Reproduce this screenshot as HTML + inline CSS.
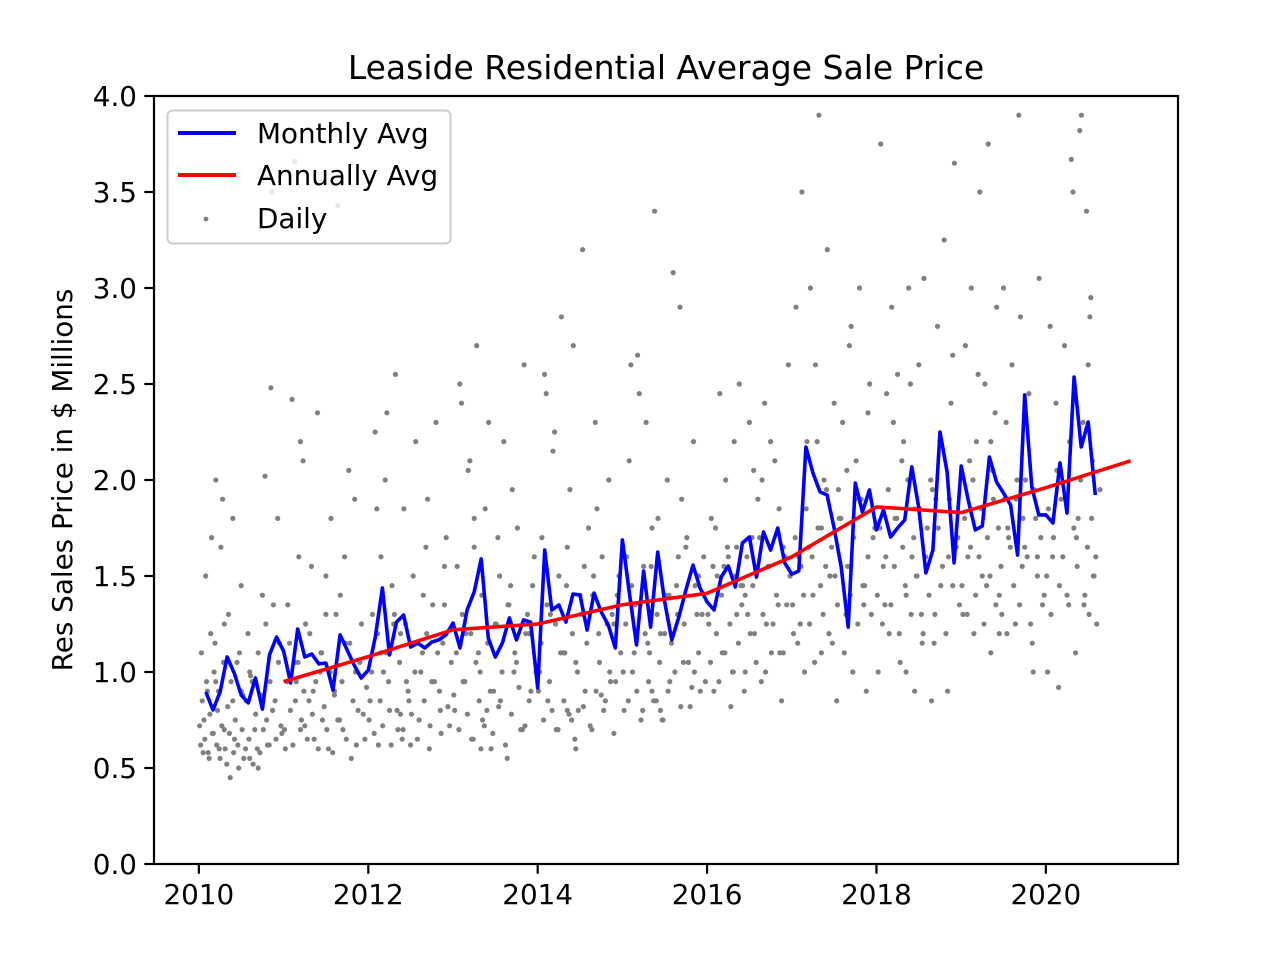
<!DOCTYPE html>
<html><head><meta charset="utf-8"><title>Leaside Residential Average Sale Price</title>
<style>
html,body{margin:0;padding:0;background:#fff;}
svg{display:block;font-family:"DejaVu Sans","Liberation Sans",sans-serif;}
</style></head>
<body>
<svg id="chart" width="1280" height="960" viewBox="0 0 1280 960" xmlns="http://www.w3.org/2000/svg">
<rect x="0" y="0" width="1280" height="960" fill="#fff"/>
<text x="666" y="79" font-size="33" text-anchor="middle" fill="#000">Leaside Residential Average Sale Price</text>
<text x="0" y="0" font-size="27.8" text-anchor="middle" fill="#000" transform="translate(72,480) rotate(-90)">Res Sales Price in $ Millions</text>
<g id="daily"></g>
<g id="lines"></g>
<g id="axes"></g>
<g id="legend">
  <rect x="167.5" y="110.5" width="283" height="133" rx="5" fill="#fff" fill-opacity="0.8" stroke="#cccccc" stroke-width="2"/>
  <line x1="178" y1="133" x2="236" y2="133" stroke="#0000ff" stroke-width="4"/>
  <text x="257" y="143" font-size="27.8">Monthly Avg</text>
  <line x1="178" y1="175" x2="236" y2="175" stroke="#ff0000" stroke-width="4"/>
  <text x="257" y="185" font-size="27.8">Annually Avg</text>
  <circle cx="206" cy="219" r="2.4" fill="#808080"/>
  <text x="257" y="228" font-size="27.8">Daily</text>
</g>
</svg>
<script>
const monthlyStart = 2010 + 1/12;
const monthlyPx = [692,710,692,657,673,695,703,678,709,655,637,651,
683,629,657,654,664,663,690,635,650,665,678,670,
637,588,655,622,615,647,643,648,642,640,635,623,
648,610,592,559,638,657,643,618,640,620,622,688,
550,610,605,622,594,595,630,593,612,625,648,540,
593,645,571,627,552,602,640,617,590,565,588,602,
610,577,566,587,543,537,577,532,550,528,563,574,
571,447,473,492,495,528,567,627,483,512,490,530,
510,537,528,520,467,508,573,550,432,472,563,466,
500,530,526,457,482,493,505,555,395,487,515,515,
523,463,513,377,447,422,495];
const monthlyValues = monthlyPx.map(p => +((864 - p) / 192).toFixed(3));
const annualYears = [2011,2012,2013,2014,2015,2016,2017,2018,2019,2020,2021];
const annualValues = [0.95,1.08,1.22,1.25,1.35,1.41,1.60,1.86,1.83,1.96,2.10];
const yTicks = [0,0.5,1.0,1.5,2.0,2.5,3.0,3.5,4.0];
const yTickLabels = ["0.0","0.5","1.0","1.5","2.0","2.5","3.0","3.5","4.0"];
const xTicks = [2010,2012,2014,2016,2018,2020];
const xTickLabels = ["2010","2012","2014","2016","2018","2020"];
const dailyYears = [
2010.02,2010.03,2010.05,2010.06,2010.08,2010.1,2010.12,2010.14,2010.16,2010.18,2010.2,2010.22,2010.24,2010.26,2010.28,2010.3,2010.33,2010.35,2010.37,2010.4,2010.42,2010.45,2010.47,2010.5,2010.52,2010.55,2010.58,2010.6,2010.63,2010.66,2010.7,2010.72,2010.75,2010.78,2010.8,2010.83,2010.85,2010.88,2010.9,2010.93,2010.95,2010.98,2010.86,2010.15,2010.4,2010.6,2010.3,2010.7,2010.5,2010.2,
2011.02,2011.05,2011.08,2011.1,2011.13,2011.15,2011.18,2011.2,2011.23,2011.26,2011.3,2011.33,2011.36,2011.4,2011.43,2011.46,2011.5,2011.53,2011.56,2011.6,2011.64,2011.67,2011.7,2011.73,2011.77,2011.8,2011.84,2011.88,2011.92,2011.96,2011.13,2011.2,2011.35,2011.5,2011.64,2011.72,2011.45,2011.85,2011.25,2011.6,
2012.02,2012.05,2012.08,2012.12,2012.15,2012.18,2012.22,2012.25,2012.28,2012.32,2012.35,2012.38,2012.42,2012.45,2012.5,2012.53,2012.56,2012.6,2012.64,2012.68,2012.72,2012.76,2012.8,2012.84,2012.88,2012.92,2012.96,2012.1,2012.3,2012.4,2012.55,2012.7,2012.85,2012.2,2012.65,2012.48,2012.9,2012.15,2012.38,2012.75,
2013.02,2013.05,2013.08,2013.12,2013.15,2013.18,2013.22,2013.25,2013.28,2013.32,2013.35,2013.38,2013.42,2013.45,2013.5,2013.53,2013.56,2013.6,2013.64,2013.68,2013.72,2013.76,2013.8,2013.84,2013.88,2013.92,2013.96,2013.1,2013.3,2013.4,2013.55,2013.7,2013.85,2013.2,2013.65,2013.48,2013.9,2013.33,2013.25,2013.75,
2014.02,2014.05,2014.08,2014.12,2014.15,2014.18,2014.22,2014.25,2014.28,2014.32,2014.35,2014.38,2014.42,2014.45,2014.5,2014.53,2014.56,2014.6,2014.64,2014.68,2014.72,2014.76,2014.8,2014.84,2014.88,2014.92,2014.96,2014.1,2014.3,2014.4,2014.55,2014.7,2014.85,2014.2,2014.65,2014.48,2014.9,2014.35,2014.45,2014.75,
2015.02,2015.05,2015.08,2015.12,2015.15,2015.18,2015.22,2015.25,2015.28,2015.32,2015.35,2015.38,2015.42,2015.45,2015.5,2015.53,2015.56,2015.6,2015.64,2015.68,2015.72,2015.76,2015.8,2015.84,2015.88,2015.92,2015.96,2015.1,2015.3,2015.4,2015.55,2015.7,2015.85,2015.2,2015.65,2015.48,2015.9,2015.35,2015.45,2015.75,
2016.02,2016.05,2016.08,2016.12,2016.15,2016.18,2016.22,2016.25,2016.28,2016.32,2016.35,2016.38,2016.42,2016.45,2016.5,2016.53,2016.56,2016.6,2016.64,2016.68,2016.72,2016.76,2016.8,2016.84,2016.88,2016.92,2016.96,2016.1,2016.3,2016.4,2016.55,2016.7,2016.85,2016.2,2016.65,2016.48,2016.9,2016.35,2016.45,2016.75,
2017.02,2017.05,2017.08,2017.12,2017.15,2017.18,2017.22,2017.25,2017.28,2017.32,2017.35,2017.38,2017.42,2017.45,2017.5,2017.53,2017.56,2017.6,2017.64,2017.68,2017.72,2017.76,2017.8,2017.84,2017.88,2017.92,2017.96,2017.1,2017.3,2017.4,2017.55,2017.7,2017.85,2017.2,2017.65,2017.48,2017.9,2017.35,2017.45,2017.75,
2018.02,2018.05,2018.08,2018.12,2018.15,2018.18,2018.22,2018.25,2018.28,2018.32,2018.35,2018.38,2018.42,2018.45,2018.5,2018.53,2018.56,2018.6,2018.64,2018.68,2018.72,2018.76,2018.8,2018.84,2018.88,2018.92,2018.96,2018.1,2018.3,2018.4,2018.55,2018.7,2018.85,2018.2,2018.65,2018.48,2018.9,2018.35,2018.45,2018.75,
2019.02,2019.05,2019.08,2019.12,2019.15,2019.18,2019.22,2019.25,2019.28,2019.32,2019.35,2019.38,2019.42,2019.45,2019.5,2019.53,2019.56,2019.6,2019.64,2019.68,2019.72,2019.76,2019.8,2019.84,2019.88,2019.92,2019.96,2019.1,2019.3,2019.4,2019.55,2019.7,2019.85,2019.2,2019.65,2019.48,2019.9,2019.35,2019.45,2019.75,
2020.02,2020.05,2020.08,2020.12,2020.15,2020.18,2020.22,2020.25,2020.28,2020.32,2020.35,2020.38,2020.42,2020.45,2020.5,2020.53,2020.56,2020.6,2020.64,2020.4,2020.44,2020.48,2020.52,2020.3,2020.36,2020.55];
const dailyValues = [
0.62,1.1,0.58,0.75,1.5,0.9,0.55,1.2,0.68,1.0,2.0,0.8,0.6,1.65,1.9,0.7,0.52,1.3,0.45,1.8,0.65,1.05,0.5,1.45,0.88,0.6,1.2,0.55,0.95,0.7,1.1,0.58,1.4,2.02,0.75,0.62,2.48,1.35,0.85,1.8,1.15,0.68,3.5,1.7,0.85,1.0,1.25,0.5,0.9,0.95,
0.6,1.35,0.8,2.42,3.66,0.95,1.6,0.7,2.1,1.25,0.85,1.55,0.65,2.35,1.0,0.75,1.3,0.6,1.8,0.9,3.43,1.4,0.7,1.15,2.05,0.55,1.9,0.8,1.25,0.65,1.05,2.2,0.9,1.5,0.75,1.6,1.1,1.0,0.72,0.88,
0.85,1.3,2.25,0.62,1.6,1.0,2.35,0.8,1.45,2.55,0.7,1.2,1.85,0.95,0.62,1.5,2.2,0.75,1.1,1.65,0.6,1.35,2.3,0.9,1.15,1.7,0.72,1.85,1.25,0.65,1.0,1.9,0.8,2.0,1.4,0.85,1.55,1.1,0.78,0.95,
0.8,1.55,2.5,0.95,1.2,2.05,0.65,1.65,2.7,1.0,0.75,1.85,2.3,0.6,1.25,1.7,0.85,2.2,0.55,1.45,1.0,1.75,0.7,2.6,1.3,0.9,1.6,2.4,1.1,0.8,1.5,1.95,0.72,2.1,1.35,0.9,1.2,0.6,1.8,1.05,
1.0,1.7,2.55,0.85,1.3,2.15,0.7,1.5,2.85,1.1,0.8,1.95,2.7,0.6,1.4,3.2,0.9,1.75,0.7,2.3,1.2,1.6,0.85,2.0,1.3,0.95,1.5,2.45,1.1,0.75,1.55,1.85,1.0,2.25,1.4,0.8,1.25,1.65,1.05,0.88,
0.8,1.6,2.1,1.0,1.35,2.65,0.75,1.55,2.3,1.1,0.9,3.4,1.8,0.8,1.2,2.0,0.95,3.08,1.45,2.9,1.05,1.7,0.82,2.2,1.3,0.9,1.6,2.6,1.15,0.85,1.4,1.9,1.0,2.45,1.3,0.75,1.5,1.75,1.2,1.65,
1.25,1.8,0.9,1.5,2.45,1.1,2.0,1.6,0.82,2.2,1.3,2.5,1.45,1.0,2.3,1.7,1.2,1.9,0.95,2.4,1.55,1.1,2.1,1.35,0.85,1.6,2.6,1.75,1.0,1.45,2.05,1.25,1.85,1.55,2.0,1.3,1.1,1.65,1.4,2.2,
1.2,2.9,1.6,3.5,1.0,2.2,3.0,1.4,2.6,3.9,1.1,2.0,3.2,1.5,2.4,0.85,1.8,2.3,1.3,2.7,1.0,2.1,3.0,1.45,0.9,2.5,1.7,1.25,2.2,1.55,1.95,2.8,1.35,1.65,2.05,1.15,2.35,1.75,1.5,1.9,
1.0,3.75,1.55,2.45,1.2,2.9,1.8,2.55,1.05,2.2,1.4,3.0,1.6,0.9,2.6,1.3,3.05,1.75,2.0,1.15,2.8,1.45,3.25,0.9,2.4,3.65,1.7,1.35,2.1,2.5,1.2,1.9,1.6,2.3,0.85,1.5,2.65,1.0,1.85,2.2,
1.3,2.7,1.6,3.0,1.2,2.2,3.5,1.5,2.5,3.75,1.1,1.9,2.9,1.4,3.0,2.3,1.7,2.6,1.25,3.9,1.55,2.0,2.45,1.15,1.8,3.05,1.35,2.1,1.45,2.35,1.75,2.85,1.0,2.55,1.9,1.3,1.6,2.2,1.2,1.65,
1.0,2.8,1.6,2.4,0.92,1.9,2.7,1.4,2.2,3.5,1.1,1.8,3.9,1.35,2.6,2.95,1.5,1.25,1.95,3.82,2.3,3.4,2.85,3.67,1.7,2.1];
// additional daily sales in the dense lower band
const dailyYears2 = [
2010.01,2010.04,2010.07,2010.09,2010.11,2010.13,2010.17,2010.19,2010.21,2010.23,2010.25,2010.27,2010.29,2010.31,2010.34,2010.36,2010.38,2010.41,2010.43,2010.46,2010.48,2010.51,2010.53,2010.56,2010.59,2010.61,2010.64,2010.67,2010.69,2010.73,2010.76,2010.79,2010.81,2010.84,2010.87,2010.91,2010.94,2010.97,
2011.01,2011.04,2011.07,2011.11,2011.14,2011.17,2011.21,2011.24,2011.28,2011.31,2011.34,2011.38,2011.41,2011.44,2011.48,2011.51,2011.55,2011.58,2011.62,2011.66,2011.69,2011.74,2011.78,2011.82,2011.86,2011.9,2011.94,2011.98,
2012.01,2012.04,2012.07,2012.11,2012.14,2012.17,2012.21,2012.24,2012.27,2012.31,2012.34,2012.37,2012.41,2012.44,2012.47,2012.51,2012.54,2012.58,2012.62,2012.66,2012.69,2012.73,2012.78,2012.82,2012.86,2012.9,2012.94,2012.98,
2013.01,2013.04,2013.07,2013.11,2013.14,2013.17,2013.21,2013.24,2013.27,2013.31,2013.34,2013.37,2013.41,2013.44,2013.47,2013.51,2013.54,2013.58,2013.62,2013.66,2013.69,2013.73,2013.78,2013.82,2013.86,2013.9,2013.94,2013.98,
2014.01,2014.04,2014.07,2014.11,2014.14,2014.17,2014.21,2014.24,2014.27,2014.31,2014.34,2014.37,2014.41,2014.44,2014.47,2014.51,2014.54,2014.58,2014.62,2014.66,2014.69,2014.73,2014.78,2014.82,2014.86,2014.9,2014.94,2014.98,
2015.01,2015.04,2015.07,2015.11,2015.14,2015.17,2015.21,2015.24,2015.27,2015.31,2015.34,2015.37,2015.41,2015.44,2015.47,2015.51,2015.54,2015.58,2015.62,2015.66,2015.69,2015.73,2015.78,2015.82,2015.86,2015.9,2015.94,2015.98,
2016.01,2016.04,2016.07,2016.11,2016.14,2016.17,2016.21,2016.24,2016.27,2016.31,2016.34,2016.37,2016.41,2016.44,2016.47,2016.51,2016.54,2016.58,2016.62,2016.66,2016.69,2016.73,2016.78,2016.82,2016.86,2016.9,2016.94,2016.98,
2017.01,2017.04,2017.07,2017.11,2017.14,2017.17,2017.21,2017.24,2017.27,2017.31,2017.34,2017.37,2017.41,2017.44,2017.47,2017.51,2017.54,2017.58,2017.62,2017.66,2017.69,2017.73,2017.78,2017.82,2017.86,2017.9,2017.94,2017.98,
2018.01,2018.04,2018.07,2018.11,2018.14,2018.17,2018.21,2018.24,2018.27,2018.31,2018.34,2018.37,2018.41,2018.44,2018.47,2018.51,2018.54,2018.58,2018.62,2018.66,2018.69,2018.73,2018.78,2018.82,2018.86,2018.9,2018.94,2018.98,
2019.01,2019.04,2019.07,2019.11,2019.14,2019.17,2019.21,2019.24,2019.27,2019.31,2019.34,2019.37,2019.41,2019.44,2019.47,2019.51,2019.54,2019.58,2019.62,2019.66,2019.69,2019.73,2019.78,2019.82,2019.86,2019.9,2019.94,2019.98,
2020.01,2020.03,2020.06,2020.09,2020.13,2020.16,2020.2,2020.23,2020.27,2020.33,2020.37,2020.41,2020.46,2020.49,2020.51,2020.54,2020.57,2020.59];
const dailyValues2 = [
0.72,0.85,0.65,0.95,0.58,0.78,0.68,1.15,0.62,0.9,0.55,0.72,1.05,0.6,0.82,0.68,0.95,0.58,0.75,0.62,1.1,0.7,0.55,0.85,0.65,0.98,0.52,0.78,0.6,0.88,0.7,1.25,0.62,0.95,0.8,0.65,1.05,0.72,
0.7,0.95,1.15,0.62,0.85,1.05,0.75,0.9,0.65,1.2,0.78,0.95,0.6,1.1,0.82,0.7,1.0,0.58,1.3,0.75,0.95,0.65,1.15,0.85,0.62,1.05,0.78,0.92,
0.75,1.0,0.68,1.2,0.85,0.72,1.1,0.95,0.62,1.3,0.8,1.05,0.7,1.25,0.9,0.78,1.15,0.65,1.0,0.85,1.2,0.72,0.95,1.1,0.68,1.35,0.82,1.05,
0.88,1.1,0.7,1.3,0.95,0.78,1.2,0.65,1.05,0.85,1.4,0.72,1.15,0.9,0.68,1.25,0.82,1.0,0.62,1.35,0.78,1.1,0.92,0.7,1.2,0.85,1.45,1.0,
0.9,1.15,0.75,1.35,0.95,0.8,1.25,0.7,1.1,0.85,1.45,0.78,1.2,0.65,1.0,1.3,0.82,1.15,0.72,1.5,0.9,1.05,0.8,1.25,0.95,0.68,1.4,1.1,
1.0,1.25,0.85,1.45,1.1,0.9,1.35,0.8,1.2,0.95,1.55,0.85,1.3,1.05,0.75,1.4,0.9,1.15,1.0,1.6,0.82,1.25,1.05,0.92,1.45,1.1,1.3,0.95,
1.3,1.05,1.55,1.2,0.95,1.4,1.1,1.65,1.25,1.0,1.5,1.15,1.35,0.9,1.6,1.2,1.45,1.05,1.7,1.3,1.0,1.55,1.25,1.4,1.1,1.65,1.35,1.5,
1.35,1.7,1.15,1.55,1.4,1.85,1.25,1.6,1.05,1.75,1.45,1.3,1.95,1.2,1.65,1.5,1.35,1.8,1.1,1.55,1.4,1.7,1.25,1.9,1.45,1.6,1.3,1.75,
1.4,1.75,1.25,1.6,1.95,1.35,1.55,1.8,1.2,1.65,1.45,2.0,1.3,1.7,1.5,1.85,1.15,1.6,1.4,1.95,1.3,1.75,1.55,1.2,1.9,1.45,1.65,1.35,
1.45,1.8,1.3,1.65,2.0,1.4,1.6,1.85,1.25,1.7,1.5,2.05,1.35,1.75,1.55,1.9,1.2,1.65,1.45,2.0,1.35,1.8,1.6,1.25,1.95,1.5,1.7,1.4,
1.5,1.85,1.3,1.7,2.05,1.45,1.6,1.9,1.35,1.75,1.55,2.0,1.4,1.65,1.3,1.8,1.5,1.6];

const X0 = 154, X1 = 1178, Y0 = 864, Y1 = 96;
const xMin = 2009.47, xMax = 2021.56, yMin = 0, yMax = 4;
function sx(v){ return X0 + (v - xMin) / (xMax - xMin) * (X1 - X0); }
function sy(v){ return Y0 - (v - yMin) / (yMax - yMin) * (Y0 - Y1); }
const NS = "http://www.w3.org/2000/svg";
function mk(tag, attrs, parent){ const e = document.createElementNS(NS, tag); for (const k in attrs) e.setAttribute(k, attrs[k]); parent.appendChild(e); return e; }

const gd = document.getElementById('daily');
function drawDaily(xs, vs){
  for (let i = 0; i < xs.length && i < vs.length; i++) {
    if (vs[i] > yMax) continue;
    const c = mk('circle', {cx: sx(xs[i]).toFixed(1), cy: sy(vs[i]).toFixed(1), r: 2.6, fill: '#808080'}, gd);
    
    
  }
}
drawDaily(dailyYears, dailyValues);
drawDaily(dailyYears2, dailyValues2);

const gl = document.getElementById('lines');
let pm = monthlyValues.map((v, i) => (i ? 'L' : 'M') + sx(monthlyStart + i / 12).toFixed(1) + ',' + sy(v).toFixed(1)).join(' ');
const lm = mk('path', {d: pm, fill: 'none', stroke: '#0000ff', 'stroke-width': 3.6, 'stroke-linejoin': 'round'}, gl);


let pa = annualValues.map((v, i) => (i ? 'L' : 'M') + sx(annualYears[i]).toFixed(1) + ',' + sy(v).toFixed(1)).join(' ');
const la = mk('path', {d: pa, fill: 'none', stroke: '#ff0000', 'stroke-width': 3.6, 'stroke-linejoin': 'round'}, gl);



const ga = document.getElementById('axes');
const frame = mk('rect', {x: X0, y: Y1, width: X1 - X0, height: Y0 - Y1, fill: 'none', stroke: '#000', 'stroke-width': 2.2}, ga);


yTicks.forEach((t, i) => {
  const y = sy(t);
  const tk = mk('line', {x1: X0, x2: X0 - 9.7, y1: y, y2: y, stroke: '#000', 'stroke-width': 2.2}, ga);
  
  
  const tx = mk('text', {x: X0 - 17, y: y + 10, 'font-size': 27.8, 'text-anchor': 'end'}, ga);
  tx.textContent = yTickLabels[i];
  
  
});
xTicks.forEach((t, i) => {
  const x = sx(t);
  const tk = mk('line', {x1: x, x2: x, y1: Y0, y2: Y0 + 9.7, stroke: '#000', 'stroke-width': 2.2}, ga);
  
  
  const tx = mk('text', {x: x, y: Y0 + 40, 'font-size': 27.8, 'text-anchor': 'middle'}, ga);
  tx.textContent = xTickLabels[i];
  
  
});
</script>
</body></html>
